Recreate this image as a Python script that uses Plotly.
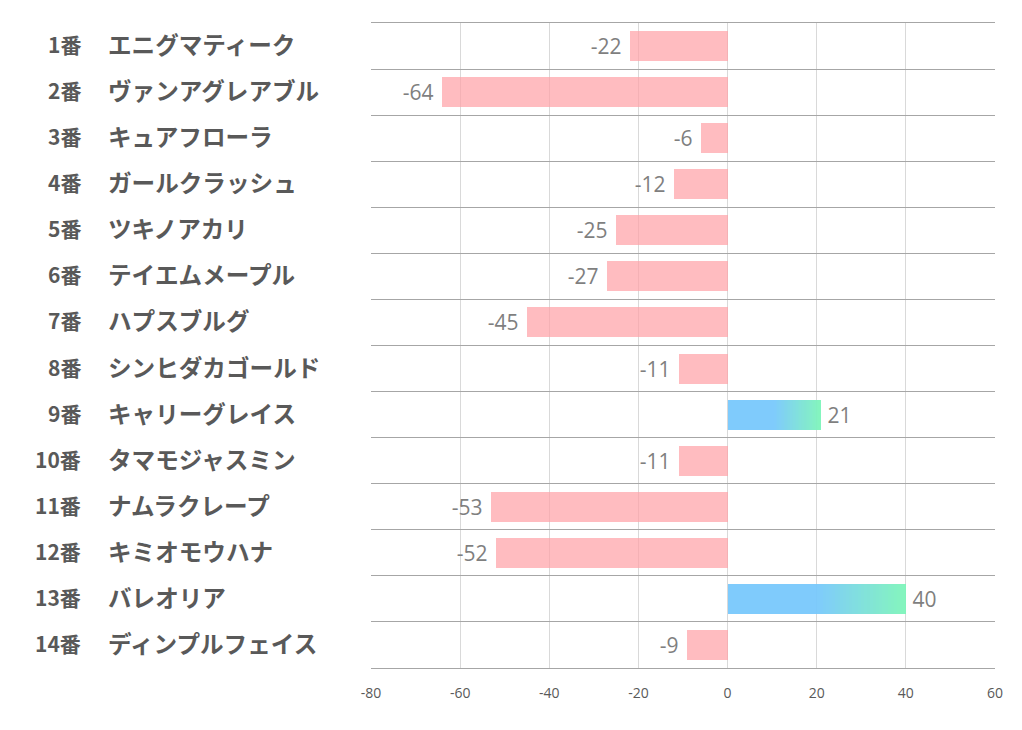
import numpy as np
import plotly.graph_objects as go

numbers = ["1番", "2番", "3番", "4番", "5番", "6番", "7番", "8番", "9番", "10番", "11番", "12番", "13番", "14番"]
names = ["エニグマティーク", "ヴァンアグレアブル", "キュアフローラ", "ガールクラッシュ", "ツキノアカリ",
         "テイエムメープル", "ハプスブルグ", "シンヒダカゴールド", "キャリーグレイス", "タマモジャスミン",
         "ナムラクレープ", "キミオモウハナ", "バレオリア", "ディンプルフェイス"]
values = [-22, -64, -6, -12, -25, -27, -45, -11, 21, -11, -53, -52, 40, -9]
x_ticks = [-80, -60, -40, -20, 0, 20, 40, 60]

idx = list(range(len(values)))
neg_y = [i for i, v in zip(idx, values) if v < 0]
neg_v = [v for v in values if v < 0]
pos_y = [i for i, v in zip(idx, values) if v > 0]
pos_v = [v for v in values if v > 0]

BAR_W = 0.65
LABEL_FONT = dict(size=21, color="#7f7f7f", family="Open Sans")
fig = go.Figure()

# negative bars (pink, translucent)
fig.add_trace(go.Bar(
    y=neg_y, x=neg_v, orientation="h", width=BAR_W,
    marker=dict(color="rgba(255,160,165,0.7)", line=dict(width=0)),
    text=[f"{v}\u00a0" for v in neg_v], textposition="outside",
    textfont=LABEL_FONT,
    cliponaxis=False, hoverinfo="skip", showlegend=False,
))

# positive bars: gradient built from many thin segments
c0 = np.array([120, 200, 252])
c1 = np.array([125, 245, 185])
N = 60
for k in range(N):
    f = (k + 0.5) / N
    t = 0.0 if f < 0.5 else (f - 0.5) / 0.5
    c = (c0 + (c1 - c0) * t).round().astype(int)
    fig.add_trace(go.Bar(
        y=pos_y, x=[v / N for v in pos_v], base=[v * k / N for v in pos_v],
        orientation="h", width=BAR_W,
        marker=dict(color=f"rgba({c[0]},{c[1]},{c[2]},0.95)", line=dict(width=0)),
        hoverinfo="skip", showlegend=False,
    ))

# invisible full bar carrying the value label for positive bars
fig.add_trace(go.Bar(
    y=pos_y, x=pos_v, orientation="h", width=BAR_W,
    marker=dict(color="rgba(0,0,0,0)", line=dict(width=0)),
    text=[f"\u2009{v}" for v in pos_v], textposition="outside",
    textfont=LABEL_FONT,
    cliponaxis=False, hoverinfo="skip", showlegend=False,
))

L, R, T, B = 371, 27, 23, 62
W, H = 1022, 730
pw = W - L - R

# category labels
for i, (n, nm) in enumerate(zip(numbers, names)):
    fig.add_annotation(x=(83 - L) / pw, xref="paper", y=i, yref="y", text=f"<b>{n}</b>",
                       showarrow=False, xanchor="right", yanchor="middle", yshift=2,
                       font=dict(size=21, color="#595959", family="Noto Sans CJK JP"))
    fig.add_annotation(x=(106 - L) / pw, xref="paper", y=i, yref="y", text=f"<b>{nm}</b>",
                       showarrow=False, xanchor="left", yanchor="middle", yshift=2,
                       font=dict(size=23.6, color="#595959", family="Noto Sans CJK JP"))

fig.update_layout(
    width=W, height=H,
    margin=dict(l=L, r=R, t=T, b=B, pad=0),
    paper_bgcolor="white", plot_bgcolor="white",
    barmode="overlay", bargap=0,
    xaxis=dict(range=[-80, 60], tickvals=x_ticks, ticktext=[str(v) for v in x_ticks],
               showgrid=True, gridcolor="#d9d9d9", gridwidth=1,
               zeroline=False, showline=True, linecolor="#a6a6a6", linewidth=1, mirror=True,
               ticks="", ticklabelstandoff=12,
               tickfont=dict(size=14, color="#595959", family="Open Sans")),
    yaxis=dict(range=[len(values) - 0.5, -0.5], tickvals=[k - 0.5 for k in range(len(values) + 1)],
               showticklabels=False, showgrid=True, gridcolor="#a6a6a6", gridwidth=1,
               zeroline=False, showline=False, ticks=""),
    showlegend=False,
)

fig.write_html("out.html", config={"displayModeBar": False},
               post_script="document.body.style.margin='0';")
